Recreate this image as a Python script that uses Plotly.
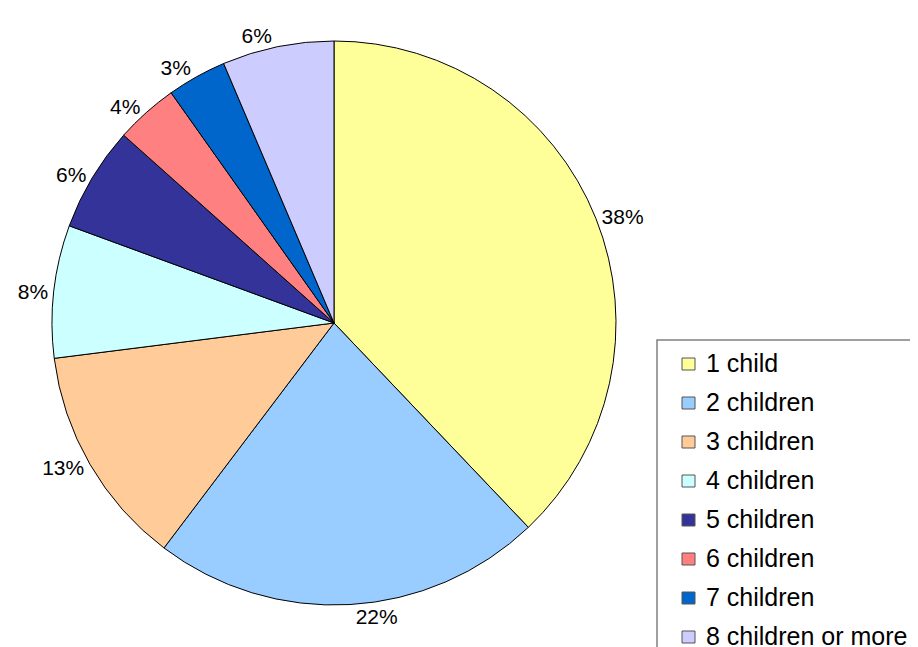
import plotly.graph_objects as go

categories = ["1 child", "2 children", "3 children", "4 children",
              "5 children", "6 children", "7 children", "8 children or more"]
shares = [37.9, 22.4, 12.7, 7.6, 6.0, 3.6, 3.4, 6.4]
colors = ["#FFFF99", "#99CCFF", "#FFCC99", "#CCFFFF",
          "#333399", "#FF8080", "#0066CC", "#CCCCFF"]

# page body has an 8px default margin, so the figure is placed at (8, 8)
OFF = 8
W, H = 918 - OFF, 647 - OFF
FONT = "Liberation Sans, Arial, sans-serif"

def px(x):
    return (x - OFF) / W

def py(y):
    return 1 - (y - OFF) / H

cx, cy, r = 334, 323, 282

fig = go.Figure()
fig.add_trace(go.Pie(
    labels=categories,
    values=shares,
    sort=False,
    direction="clockwise",
    rotation=0,
    marker=dict(colors=colors, line=dict(color="#000000", width=1)),
    textposition="outside",
    texttemplate="%{percent:.0%}",
    textfont=dict(family=FONT, size=21, color="#000000"),
    showlegend=False,
    domain=dict(x=[px(cx - r), px(cx + r)], y=[py(cy + r), py(cy - r)]),
    hoverinfo="label+percent",
))

shapes = []
annotations = []
# legend box (extends past the right and bottom edges, as in the reference)
shapes.append(dict(type="rect", xref="paper", yref="paper",
                   x0=px(657), x1=px(960), y0=py(700), y1=py(340),
                   line=dict(color="#808080", width=1.5), fillcolor="rgba(0,0,0,0)"))
y0 = 364
step = 39
for i, (name, col) in enumerate(zip(categories, colors)):
    yc = y0 + i * step
    shapes.append(dict(type="rect", xref="paper", yref="paper",
                       x0=px(682), x1=px(695), y0=py(yc + 6), y1=py(yc - 6),
                       line=dict(color="#555555", width=1), fillcolor=col))
    annotations.append(dict(xref="paper", yref="paper", x=px(704), y=py(yc - 1),
                            xanchor="left", yanchor="middle", showarrow=False,
                            text=name, font=dict(family=FONT, size=25, color="#000000")))

fig.update_layout(
    width=W, height=H, autosize=False,
    margin=dict(l=0, r=0, t=0, b=0),
    paper_bgcolor="#FFFFFF", plot_bgcolor="#FFFFFF",
    shapes=shapes, annotations=annotations,
)

fig.write_html("out.html")
